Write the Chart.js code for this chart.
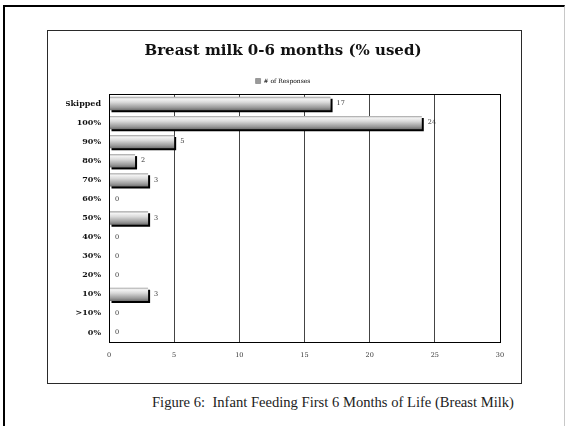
<!DOCTYPE html>
<html>
<head>
<meta charset="utf-8">
<script src="https://cdn.jsdelivr.net/npm/chart.js@4.4.1/dist/chart.umd.min.js"></script>
<style>
  html, body { margin: 0; padding: 0; background: #fff; }
  body { width: 565px; height: 426px; position: relative; overflow: hidden; }
  #frame {
    position: absolute; left: 3px; top: 5px; width: 562px; height: 440px;
    border-left: 2px solid #000; border-top: 2px solid #000; border-right: 1px solid #c8c8c8;
    box-sizing: border-box;
  }
  #box {
    position: absolute; left: 47px; top: 30px; width: 475px; height: 354px;
    border: 1.5px solid #2a2a2a; box-sizing: border-box;
  }
  #caption {
    position: absolute; left: 152px; top: 395px; white-space: nowrap; line-height: 15px;
    font-family: "Liberation Serif", serif; font-size: 14.6px; color: #222;
  }
  #c { position: absolute; left: 0; top: 0; }
</style>
</head>
<body>
<div id="frame"></div>
<div id="box"></div>
<div id="caption">Figure 6:&nbsp; Infant Feeding First 6 Months of Life (Breast Milk)</div>
<canvas id="c" width="565" height="426"></canvas>
<script>
// Share of breast milk in infant feeding, first six months
const categories = ['Skipped', '100%', '90%', '80%', '70%', '60%', '50%', '40%', '30%', '20%', '10%', '>10%', '0%'];
const responses = [17, 24, 5, 2, 3, 0, 3, 0, 0, 0, 3, 0, 0];
const seriesName = '# of Responses';
const chartTitle = 'Breast milk 0-6 months (% used)';
const xMin = 0, xMax = 30, xStep = 5;

const serif = '"DejaVu Serif", serif';

// Cylinder-like shading with a hard drop shadow for each bar
const barShading = {
  id: 'barShading',
  beforeDatasetDraw(chart, args) {
    const ctx = chart.ctx;
    const meta = args.meta;
    meta.data.forEach(bar => {
      const top = bar.y - bar.height / 2;
      const bottom = bar.y + bar.height / 2;
      const g = ctx.createLinearGradient(0, top, 0, bottom);
      g.addColorStop(0, '#9c9c9c');
      g.addColorStop(0.15, '#f4f4f4');
      g.addColorStop(0.4, '#dadada');
      g.addColorStop(0.8, '#9a9a9a');
      g.addColorStop(1, '#707070');
      // resolved options are shared and frozen, so give each bar its own copy
      bar.options = Object.assign({}, bar.options, { backgroundColor: g });
    });
    ctx.save();
    ctx.shadowColor = '#000';
    ctx.shadowOffsetX = 2;
    ctx.shadowOffsetY = 2;
    ctx.shadowBlur = 0;
  },
  afterDatasetDraw(chart) {
    chart.ctx.restore();
  }
};

// Value next to each bar and the frame round the plot area
const valueLabels = {
  id: 'valueLabels',
  afterDatasetsDraw(chart) {
    const ctx = chart.ctx;
    const area = chart.chartArea;
    ctx.save();
    ctx.strokeStyle = '#000';
    ctx.lineWidth = 1;
    ctx.strokeRect(Math.round(area.left) + 0.5, Math.round(area.top) + 0.5,
                   Math.round(area.right - area.left), Math.round(area.bottom - area.top));
    const meta = chart.getDatasetMeta(0);
    ctx.font = '6.5px ' + serif;
    ctx.fillStyle = '#333';
    ctx.textAlign = 'left';
    ctx.textBaseline = 'middle';
    meta.data.forEach((bar, i) => {
      ctx.fillText(String(responses[i]), bar.x + 6, bar.y);
    });
    ctx.restore();
  }
};

new Chart(document.getElementById('c'), {
  type: 'bar',
  data: {
    labels: categories,
    datasets: [{
      label: seriesName,
      data: responses,
      backgroundColor: '#b0b0b0',
      borderWidth: 0,
      barPercentage: 0.7,
      categoryPercentage: 1
    }]
  },
  options: {
    indexAxis: 'y',
    responsive: false,
    animation: false,
    events: [],
    layout: { padding: { top: 34, left: 66, right: 65, bottom: 43 } },
    plugins: {
      title: {
        display: true,
        text: chartTitle,
        color: '#111',
        font: { family: serif, size: 15, weight: 'bold' },
        padding: { top: 8, bottom: 11 }
      },
      legend: {
        display: true,
        position: 'top',
        labels: {
          boxWidth: 5,
          boxHeight: 5,
          padding: 7,
          color: '#222',
          font: { family: serif, size: 6 },
          generateLabels: chart => [{
            text: seriesName,
            fillStyle: '#9a9a9a',
            strokeStyle: '#666',
            lineWidth: 0.5,
            datasetIndex: 0
          }]
        }
      },
      tooltip: { enabled: false }
    },
    scales: {
      x: {
        min: xMin,
        max: xMax,
        ticks: {
          stepSize: xStep,
          padding: 9,
          color: '#333',
          font: { family: serif, size: 6.5 }
        },
        grid: { color: '#444', lineWidth: 1, drawTicks: false },
        border: { display: true, color: '#000', width: 1 },
        afterFit(scale) { scale.height = 41; }
      },
      y: {
        ticks: {
          padding: 8,
          color: '#111',
          font: { family: serif, size: 8, weight: 'bold' }
        },
        grid: { display: false, drawTicks: false },
        border: { display: true, color: '#000', width: 1 },
        afterFit(scale) { scale.width = 43; }
      }
    }
  },
  plugins: [barShading, valueLabels]
});
</script>
</body>
</html>
